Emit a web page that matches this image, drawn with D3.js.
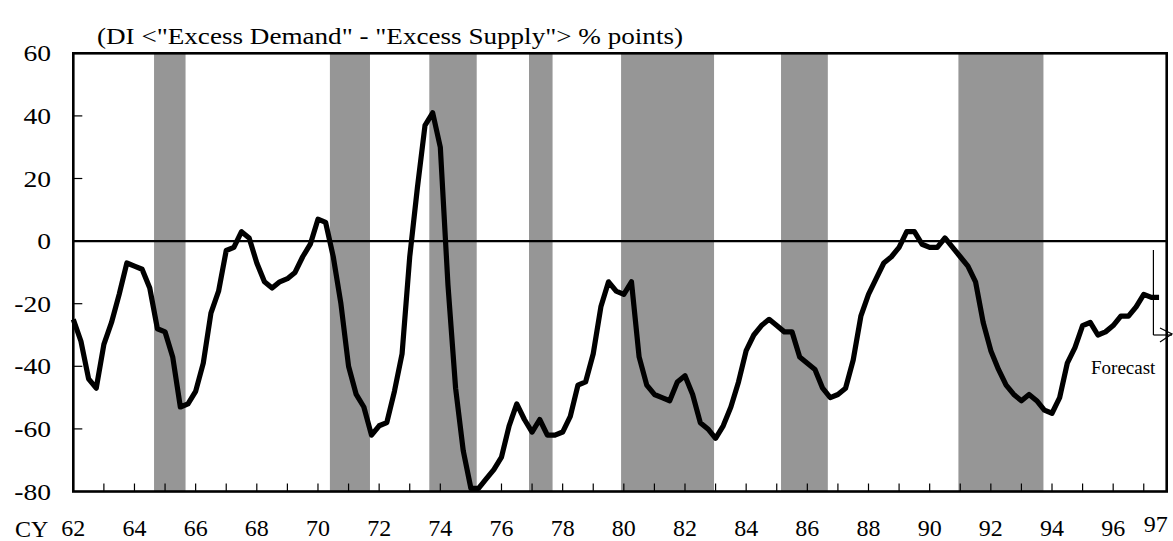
<!DOCTYPE html>
<html><head><meta charset="utf-8">
<script src="https://cdn.jsdelivr.net/npm/d3@7"></script>
<style>
html,body{margin:0;padding:0;background:#fff;}
svg{display:block;font-family:"Liberation Serif","Times New Roman",serif;}
</style>
</head><body>
<svg id="chart" width="1173" height="541"></svg>
<script>
// ---- data (quarterly, 1962 Q1 .. 1997 Q3) ----
const startYear = 1962;
const quarterStep = 0.25;
const diValues = [
  -25,-32,-44,-47, -33,-26,-17,-7, -8,-9,-15,-28, -29,-37,-53,-52,   // 62-65
  -48,-39,-23,-16, -3,-2,3,1, -7,-13,-15,-13, -12,-10,-5,-1,         // 66-69
  7,6,-5,-20, -40,-49,-53,-62, -59,-58,-48,-36, -5,17,37,41,          // 70-73
  30,-14,-47,-67, -79,-79,-76,-73, -69,-59,-52,-57, -61,-57,-62,-62,  // 74-77
  -61,-56,-46,-45, -36,-21,-13,-16, -17,-13,-37,-46, -49,-50,-51,-45, // 78-81
  -43,-49,-58,-60, -63,-59,-53,-45, -35,-30,-27,-25, -27,-29,-29,-37, // 82-85
  -39,-41,-47,-50, -49,-47,-38,-24, -17,-12,-7,-5, -2,3,3,-1,         // 86-89
  -2,-2,1,-2, -5,-8,-13,-26, -35,-41,-46,-49, -51,-49,-51,-54,        // 90-93
  -55,-50,-39,-34, -27,-26,-30,-29, -27,-24,-24,-21, -17,-18,-18      // 94-97
];
const bandStart = [1964.64, 1970.39, 1973.64, 1976.90, 1979.91, 1985.14, 1990.94];
const bandEnd   = [1965.67, 1971.70, 1975.19, 1977.67, 1982.95, 1986.67, 1993.72];
const yTickValues = [60, 40, 20, 0, -20, -40, -60, -80];
const xTickYears = d3.range(1963, 1998);
const xLabelYears = [1962,1964,1966,1968,1970,1972,1974,1976,1978,1980,1982,1984,1986,1988,1990,1992,1994,1996];
const xLabelTexts = ["62","64","66","68","70","72","74","76","78","80","82","84","86","88","90","92","94","96"];
const lastLabelYear = 1997;
const lastLabelText = "97";
const forecastStartYear = 1997.25;
const titleText = '(DI <"Excess Demand" - "Excess Supply"> % points)';

// ---- layout ----
const L = 73.3, R = 1166.7, T = 53.3, B = 491.5;
const x = d3.scaleLinear().domain([1962, 1997.75]).range([L, R]);
const y = d3.scaleLinear().domain([-80, 60]).range([B, T]);
const svg = d3.select("#chart");
const gray = "#969696";

// recession bands
svg.append("g").selectAll("rect").data(bandStart).join("rect")
  .attr("x", (d) => x(d))
  .attr("width", (d, i) => x(bandEnd[i]) - x(d))
  .attr("y", y(60)).attr("height", y(-80) - y(60))
  .attr("fill", gray);

// zero line
svg.append("line").attr("x1", L).attr("x2", R).attr("y1", y(0)).attr("y2", y(0))
  .attr("stroke", "#000").attr("stroke-width", 2.2);

// y ticks (inward)
svg.append("g").selectAll("line").data(yTickValues.filter(v => v > -80 && v < 60 && v !== 0)).join("line")
  .attr("x1", L).attr("x2", L + 9).attr("y1", d => y(d)).attr("y2", d => y(d))
  .attr("stroke", "#000").attr("stroke-width", 1.2);

// x ticks (inward)
svg.append("g").selectAll("line").data(xTickYears).join("line")
  .attr("x1", d => x(d)).attr("x2", d => x(d)).attr("y1", B).attr("y2", B - 8)
  .attr("stroke", "#000").attr("stroke-width", 1.2);

// frame
svg.append("rect").attr("x", L).attr("y", T).attr("width", R - L).attr("height", B - T)
  .attr("fill", "none").attr("stroke", "#000").attr("stroke-width", 2.6);

// series line
const line = d3.line()
  .x((d, i) => x(startYear + i * quarterStep))
  .y(d => y(d))
  .curve(d3.curveLinear);
svg.append("path").datum(diValues).attr("d", line)
  .attr("fill", "none").attr("stroke", "#000").attr("stroke-width", 5.2)
  .attr("stroke-linejoin", "round").attr("stroke-linecap", "butt");

// y labels
svg.append("g").selectAll("text").data(yTickValues).join("text")
  .attr("transform", d => `translate(51,${y(d) + 8}) scale(1.2,1)`)
  .attr("text-anchor", "end").attr("font-size", 23).attr("fill", "#000")
  .text(d => d);

// x labels
svg.append("g").selectAll("text").data(xLabelYears).join("text")
  .attr("x", d => x(d)).attr("y", 536)
  .attr("text-anchor", "middle").attr("font-size", 24).attr("fill", "#000")
  .text((d, i) => xLabelTexts[i]);
svg.append("text").attr("x", x(lastLabelYear) + 12).attr("y", 532)
  .attr("text-anchor", "middle").attr("font-size", 24).text(lastLabelText);
svg.append("text").attr("x", 15).attr("y", 537).attr("font-size", 24).text("CY");

// title
svg.append("text").attr("x", 97).attr("y", 44).attr("font-size", 24)
  .attr("textLength", 586).attr("lengthAdjust", "spacingAndGlyphs").text(titleText);

// forecast marker
const fx = x(forecastStartYear) + 2;
svg.append("line").attr("x1", fx).attr("x2", fx).attr("y1", 250).attr("y2", 335)
  .attr("stroke", "#000").attr("stroke-width", 1.2);
svg.append("line").attr("x1", fx).attr("x2", 1172).attr("y1", 335).attr("y2", 335)
  .attr("stroke", "#000").attr("stroke-width", 1.2);
svg.append("polyline").attr("points", "1160,328 1172,334 1160,342")
  .attr("fill", "none").attr("stroke", "#000").attr("stroke-width", 1.2);
svg.append("text").attr("x", 1091).attr("y", 374).attr("font-size", 19).text("Forecast");
</script>
</body></html>
